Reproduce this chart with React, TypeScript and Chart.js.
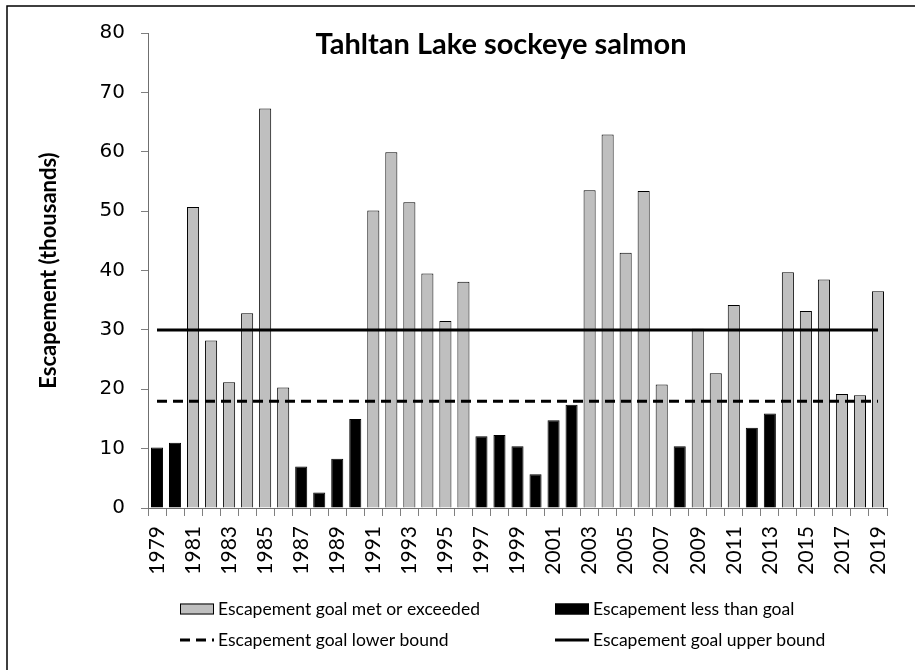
import React, { useEffect, useRef } from 'react';
import { Chart, registerables } from 'chart.js';

Chart.register(...registerables);

const W = 915;
const H = 670;

const chartTitle = 'Tahltan Lake sockeye salmon';
const yAxisTitle = 'Escapement (thousands)';

const years = [
  '1979', '1980', '1981', '1982', '1983', '1984', '1985', '1986', '1987', '1988',
  '1989', '1990', '1991', '1992', '1993', '1994', '1995', '1996', '1997', '1998',
  '1999', '2000', '2001', '2002', '2003', '2004', '2005', '2006', '2007', '2008',
  '2009', '2010', '2011', '2012', '2013', '2014', '2015', '2016', '2017', '2018',
  '2019',
];

// Escapement goal met or exceeded (thousands)
const metGoal = [
  null, null, 50.7, 28.2, 21.2, 32.8, 67.3, 20.3, null, null, null, null,
  50.1, 59.9, 51.5, 39.5, 31.5, 38.1, null, null, null, null, null, null,
  53.5, 62.9, 43.0, 53.4, 20.8, null, 30.2, 22.7, 34.2, null, null, 39.7,
  33.2, 38.5, 19.2, 19.0, 36.5,
];

// Escapement less than goal (thousands)
const belowGoal = [
  10.2, 11.0, null, null, null, null, null, null, 7.0, 2.6, 8.3, 15.0,
  null, null, null, null, null, null, 12.1, 12.3, 10.4, 5.7, 14.8, 17.4,
  null, null, null, null, null, 10.4, null, null, null, 13.5, 15.9, null,
  null, null, null, null, null,
];

const lowerBound = 18;
const upperBound = 30;

const yTicks = [0, 10, 20, 30, 40, 50, 60, 70, 80];

const labelFont = 'Lato';

const decorPlugin = {
  id: 'decor',
  afterDraw(chart: any) {
    const ctx = chart.ctx;
    const ca = chart.chartArea;
    ctx.save();
    // outer frame
    ctx.strokeStyle = '#000';
    ctx.lineWidth = 1.5;
    ctx.strokeRect(7, 6, W + 20, H + 20);
    // title inside plot
    ctx.fillStyle = '#000';
    ctx.font = `bold 29px ${labelFont}`;
    ctx.textAlign = 'center';
    ctx.textBaseline = 'alphabetic';
    ctx.fillText(chartTitle, ca.left + 353, ca.top + 21);
    // legend 2x2
    const ds = chart.data.datasets;
    const slots = [
      { i: 2, x: 180, y: 609 },
      { i: 3, x: 555, y: 609 },
      { i: 0, x: 180, y: 640 },
      { i: 1, x: 555, y: 640 },
    ];
    ctx.textAlign = 'left';
    ctx.textBaseline = 'middle';
    ctx.font = `17.5px ${labelFont}`;
    for (const s of slots) {
      const d = ds[s.i];
      if (d.type === 'line') {
        ctx.strokeStyle = d.borderColor;
        ctx.lineWidth = d.borderWidth;
        ctx.setLineDash(d.borderDash || []);
        ctx.beginPath();
        ctx.moveTo(s.x, s.y);
        ctx.lineTo(s.x + 34, s.y);
        ctx.stroke();
        ctx.setLineDash([]);
      } else {
        ctx.fillStyle = d.backgroundColor;
        ctx.fillRect(s.x, s.y - 5.5, 34, 11);
        ctx.strokeStyle = d.borderColor;
        ctx.lineWidth = 1;
        ctx.strokeRect(s.x + 0.5, s.y - 5, 33, 10);
      }
      ctx.fillStyle = '#000';
      ctx.fillText(d.label, s.x + 38, s.y);
    }
    ctx.restore();
  },
};

export default function App() {
  const ref = useRef<HTMLCanvasElement>(null);
  useEffect(() => {
    const canvas = ref.current!;
    const chart = new Chart(canvas, {
      type: 'bar',
      data: {
        labels: years,
        datasets: [
          {
            type: 'line',
            label: 'Escapement goal lower bound',
            data: years.map(() => lowerBound),
            borderColor: '#000',
            borderWidth: 3,
            borderDash: [10, 6],
            borderCapStyle: 'butt',
            pointRadius: 0,
            order: 0,
          } as any,
          {
            type: 'line',
            label: 'Escapement goal upper bound',
            data: years.map(() => upperBound),
            borderColor: '#000',
            borderWidth: 3,
            pointRadius: 0,
            order: 0,
          } as any,
          {
            type: 'bar',
            label: 'Escapement goal met or exceeded',
            data: metGoal,
            backgroundColor: '#BFBFBF',
            borderColor: '#000',
            borderWidth: 1,
            grouped: false,
            barPercentage: 0.67,
            categoryPercentage: 1,
            order: 1,
          } as any,
          {
            type: 'bar',
            label: 'Escapement less than goal',
            data: belowGoal,
            backgroundColor: '#000',
            borderColor: '#000',
            borderWidth: 1,
            grouped: false,
            barPercentage: 0.67,
            categoryPercentage: 1,
            order: 1,
          } as any,
        ],
      },
      options: {
        animation: false,
        responsive: false,
        maintainAspectRatio: false,
        events: [],
        layout: { padding: { top: 33, right: 28, left: 0, bottom: 0 } },
        plugins: {
          legend: { display: false },
          title: { display: false },
          tooltip: { enabled: false },
        },
        scales: {
          x: {
            offset: true,
            grid: {
              offset: true,
              drawOnChartArea: false,
              drawTicks: true,
              tickLength: 8,
              color: '#7f7f7f',
            },
            border: { color: '#6f6f6f', width: 1 },
            ticks: {
              autoSkip: false,
              maxRotation: 90,
              minRotation: 90,
              color: '#000',
              padding: 10,
              font: { family: labelFont, size: 21 },
              callback: (_v: any, i: number) => (i % 2 === 0 ? years[i] : ''),
            },
            afterFit: (s: any) => {
              s.height = H - 508;
            },
          },
          y: {
            min: 0,
            max: 80,
            afterBuildTicks: (s: any) => {
              s.ticks = yTicks.map((v) => ({ value: v }));
            },
            grid: { drawOnChartArea: false, tickLength: 7, color: '#7f7f7f' },
            border: { color: '#6f6f6f', width: 1 },
            ticks: {
              color: '#000',
              padding: 16,
              font: { family: 'DejaVu Sans', size: 20 },
            },
            title: {
              display: true,
              text: yAxisTitle,
              color: '#000',
              font: { family: labelFont, size: 22, weight: 'bold' },
              padding: { top: 36, bottom: 0 },
            },
            afterFit: (s: any) => {
              s.width = 148;
            },
          },
        },
      } as any,
      plugins: [decorPlugin],
    });
    return () => chart.destroy();
  }, []);
  return (
    <div style={{ position: 'fixed', left: 0, top: 0, width: W, height: H, background: '#fff' }}>
      <canvas ref={ref} width={W} height={H} style={{ width: W, height: H, display: 'block' }} />
    </div>
  );
}
